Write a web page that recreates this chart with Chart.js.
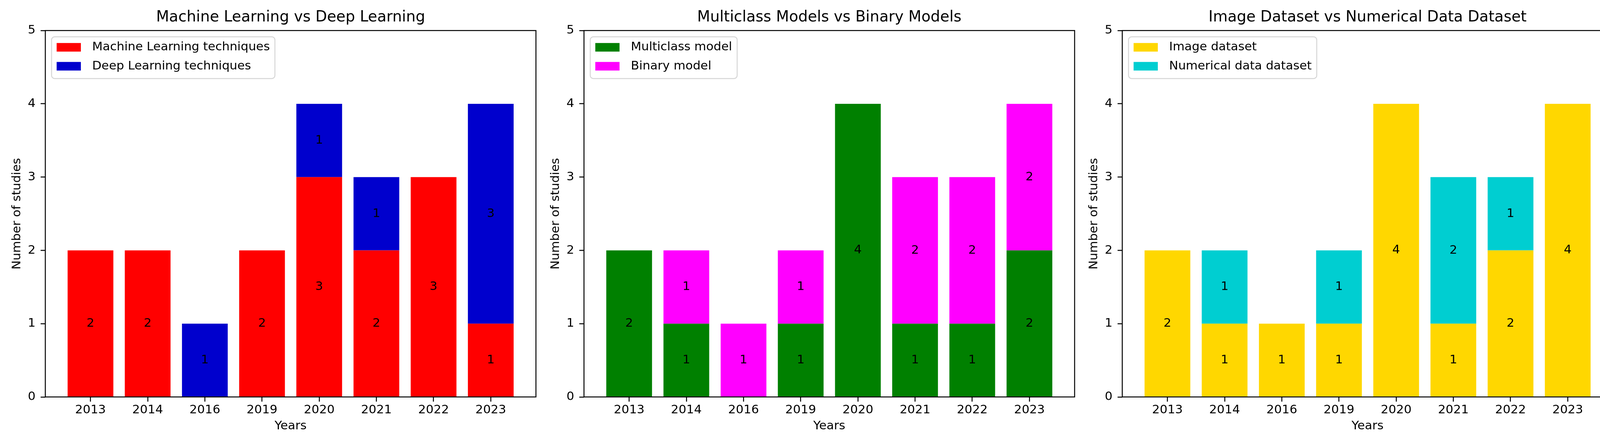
<!DOCTYPE html>
<html>
<head>
<meta charset="utf-8">
<script src="https://cdn.jsdelivr.net/npm/chart.js@4.4.0/dist/chart.umd.min.js"></script>
<style>
  html, body { margin: 0; padding: 0; background: #fff; }
  body { width: 4148px; height: 1135px; position: relative; overflow: hidden; }
  canvas { position: absolute; top: 0; }
</style>
</head>
<body>
<canvas id="mlChart" width="1380" height="1135" style="left:0px"></canvas>
<canvas id="modelChart" width="1380" height="1135" style="left:1379px"></canvas>
<canvas id="datasetChart" width="1380" height="1135" style="left:2757px"></canvas>
<script>
// ============ DATA ============
const years = ['2013', '2014', '2016', '2019', '2020', '2021', '2022', '2023'];
const yTicks = [0, 1, 2, 3, 4, 5];

const mlTechniques = [2, 2, 0, 2, 3, 2, 3, 1];
const dlTechniques = [0, 0, 1, 0, 1, 1, 0, 3];

const multiclassModel = [2, 1, 0, 1, 4, 1, 1, 2];
const binaryModel     = [0, 1, 1, 1, 0, 2, 2, 2];

const imageDataset     = [2, 1, 1, 1, 4, 1, 2, 4];
const numericalDataset = [0, 1, 0, 1, 0, 2, 1, 0];

const FONT = "'DejaVu Sans', sans-serif";

// spines, value labels inside bars, legend box (matplotlib look)
const mplLook = {
  id: 'mplLook',
  afterDatasetsDraw(chart) {
    const { ctx, chartArea: a } = chart;
    ctx.save();
    ctx.font = `31px ${FONT}`;
    ctx.fillStyle = '#000';
    ctx.textAlign = 'center';
    ctx.textBaseline = 'middle';
    chart.data.datasets.forEach((ds, di) => {
      chart.getDatasetMeta(di).data.forEach((bar, i) => {
        const v = ds.data[i].y;
        if (!v) return;
        ctx.fillText(String(v), bar.x, (bar.y + bar.base) / 2);
      });
    });
    ctx.strokeStyle = '#000';
    ctx.lineWidth = 2.5;
    ctx.strokeRect(a.left, a.top, a.right - a.left, a.bottom - a.top);
    ctx.restore();
  },
  afterDraw(chart) {
    const { ctx, chartArea: a } = chart;
    const ds = chart.data.datasets;
    ctx.save();
    ctx.font = `31px ${FONT}`;
    const tw = Math.max(...ds.map(d => ctx.measureText(d.label).width));
    const x0 = a.left + 16, y0 = a.top + 16;
    ctx.beginPath();
    ctx.roundRect(x0, y0, 104 + tw + 13, 107, 8);
    ctx.fillStyle = 'rgba(255,255,255,0.8)';
    ctx.fill();
    ctx.strokeStyle = '#d6d6d6';
    ctx.lineWidth = 2.5;
    ctx.stroke();
    ds.forEach((d, k) => {
      const cy = a.top + 43 + k * 48.5;
      ctx.fillStyle = d.backgroundColor;
      ctx.fillRect(a.left + 29, cy - 11, 62, 22);
      ctx.fillStyle = '#000';
      ctx.textAlign = 'left';
      ctx.textBaseline = 'middle';
      ctx.fillText(d.label, a.left + 120, cy);
    });
    ctx.restore();
  }
};

const xGrid = { offset: false, drawOnChartArea: false, drawTicks: true, tickLength: 12, tickWidth: 2.5, tickColor: '#000' };
const yGrid = { drawOnChartArea: false, drawTicks: true, tickLength: 12, tickWidth: 2.5, tickColor: '#000' };

function makeChart(id, title, labels, values, colors) {
  return new Chart(document.getElementById(id), {
    type: 'bar',
    data: {
      datasets: values.map((vals, k) => ({
        label: labels[k],
        data: vals.map((v, i) => ({ x: i, y: v })),
        backgroundColor: colors[k],
        borderWidth: 0,
        categoryPercentage: 0.8,
        barPercentage: 1
      }))
    },
    options: {
      responsive: false,
      animation: false,
      devicePixelRatio: 1,
      layout: { padding: { left: 0, right: 8, top: 0, bottom: 0 } },
      plugins: {
        legend: { display: false },
        tooltip: { enabled: false },
        title: {
          display: true, text: title, fullSize: false, color: '#000',
          font: { family: FONT, size: 38.5, weight: 'normal', lineHeight: 1.2 },
          padding: { top: 22, bottom: 10 }
        }
      },
      scales: {
        x: {
          type: 'linear', stacked: true, min: -0.79, max: 7.79, offset: false,
          afterBuildTicks: s => { s.ticks = years.map((_, i) => ({ value: i })); },
          afterFit: s => { s.height = 118; },
          ticks: { autoSkip: false, maxRotation: 0, padding: 3, color: '#000',
                   font: { family: FONT, size: 31 }, callback: v => years[v] },
          grid: xGrid,
          border: { display: false },
          title: { display: true, text: 'Years', color: '#000',
                   font: { family: FONT, size: 31 }, padding: { top: 0, bottom: 24 } }
        },
        y: {
          stacked: true, min: 0, max: 5,
          afterBuildTicks: s => { s.ticks = yTicks.map(v => ({ value: v })); },
          afterFit: s => { s.width = 116; },
          ticks: { padding: 13, color: '#000', font: { family: FONT, size: 31 } },
          grid: yGrid,
          border: { display: false },
          title: { display: true, text: 'Number of studies', color: '#000',
                   font: { family: FONT, size: 31 }, padding: { top: 25, bottom: 0 } }
        }
      }
    },
    plugins: [mplLook]
  });
}

makeChart('mlChart', 'Machine Learning vs Deep Learning',
  ['Machine Learning techniques', 'Deep Learning techniques'],
  [mlTechniques, dlTechniques], ['#ff0000', '#0000cd']);

makeChart('modelChart', 'Multiclass Models vs Binary Models',
  ['Multiclass model', 'Binary model'],
  [multiclassModel, binaryModel], ['#008000', '#ff00ff']);

makeChart('datasetChart', 'Image Dataset vs Numerical Data Dataset',
  ['Image dataset', 'Numerical data dataset'],
  [imageDataset, numericalDataset], ['#ffd700', '#00ced1']);
</script>
</body>
</html>
